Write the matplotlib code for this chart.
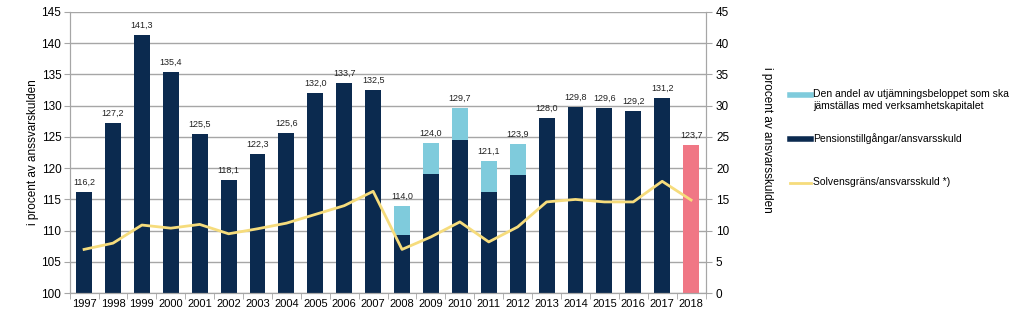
import matplotlib.pyplot as plt
import numpy as np
from matplotlib.lines import Line2D

years = [str(y) for y in range(1997, 2019)]
totals = [116.2, 127.2, 141.3, 135.4, 125.5, 118.1, 122.3, 125.6, 132.0, 133.7, 132.5,
          114.0, 124.0, 129.7, 121.1, 123.9, 128.0, 129.8, 129.6, 129.2, 131.2, 123.7]
# pensionstillgångar utan utjämningsbeloppet (2008-2012)
bas = [116.2, 127.2, 141.3, 135.4, 125.5, 118.1, 122.3, 125.6, 132.0, 133.7, 132.5,
       109.3, 119.0, 124.5, 116.2, 118.9, 128.0, 129.8, 129.6, 129.2, 131.2, 123.7]
solvens = [7.0, 8.0, 10.9, 10.4, 11.0, 9.5, 10.3, 11.2, 12.6, 14.0, 16.3,
           7.0, 9.0, 11.4, 8.2, 10.6, 14.6, 15.0, 14.6, 14.6, 17.9, 14.9]

navy = '#0b2a4f'
ljusbla = '#7fcbdc'
rosa = '#f07785'
gul = '#f6dc7c'
gra = '#a6a6a6'

plt.rcParams['font.family'] = ['Liberation Sans', 'DejaVu Sans']

fig = plt.figure(figsize=(10.24, 3.32), dpi=100)
ax = fig.add_axes([0.068, 0.117, 0.621, 0.847])
ax2 = ax.twinx()

x = np.arange(len(years))
w = 0.55
farger = [navy] * (len(years) - 1) + [rosa]
ax.bar(x, np.array(bas) - 100, w, bottom=100, color=farger, zorder=2)
ax.bar(x, np.array(totals) - np.array(bas), w, bottom=bas, color=ljusbla, zorder=2)

for xi, t in zip(x, totals):
    ax.text(xi, t + 0.8, f'{t:.1f}'.replace('.', ','), ha='center', va='bottom',
            fontsize=6.5, color='#222222')

ax2.plot(x, solvens, color=gul, lw=2, zorder=3)

ax.set_ylim(100, 145)
ax.set_yticks(range(100, 146, 5))
ax2.set_ylim(0, 45)
ax2.set_yticks(range(0, 46, 5))
ax.set_xlim(-0.5, len(years) - 0.5)
ax.set_xticks(x)
ax.set_xticklabels(years)
ax.set_xticks(np.arange(-0.5, len(years), 1), minor=True)
ax.tick_params(axis='x', which='major', length=0, labelsize=8, pad=4)
ax.tick_params(axis='x', which='minor', length=4, color=gra)
ax.tick_params(axis='y', labelsize=8.5, length=4, color=gra, pad=2)
ax2.tick_params(axis='y', labelsize=8.5, length=4, color=gra)

ax.yaxis.grid(True, color=gra, lw=1, zorder=0)
ax.set_axisbelow(True)
for a in (ax, ax2):
    a.spines['top'].set_visible(False)
    for s in ('left', 'right', 'bottom'):
        a.spines[s].set_color(gra)

ax.set_ylabel('i procent av anssvarskulden', fontsize=8.5, va='center')
ax.yaxis.set_label_coords(-0.058, 0.5)
ax2.set_ylabel('i procent av ansvarsskulden', fontsize=8.5, rotation=270, va='center')
ax2.yaxis.set_label_coords(1.096, 0.545)

# förklaring, ritad för hand i figurkoordinater
poster = [(ljusbla, 4, 'Den andel av utjämningsbeloppet som ska\njämställas med verksamhetskapitalet', 95),
          (navy, 4, 'Pensionstillgångar/ansvarsskuld', 139),
          (gul, 2, 'Solvensgräns/ansvarsskuld *)', 183)]
for farg, lw, text, ypx in poster:
    yf = 1 - ypx / 332
    fig.add_artist(Line2D([790 / 1024, 811 / 1024], [yf, yf], color=farg, lw=lw,
                          transform=fig.transFigure))
    fig.text(813 / 1024, yf + 0.018, text, fontsize=7.5, va='top', ha='left',
             linespacing=1.25)

fig.savefig('out.png', dpi=100)
